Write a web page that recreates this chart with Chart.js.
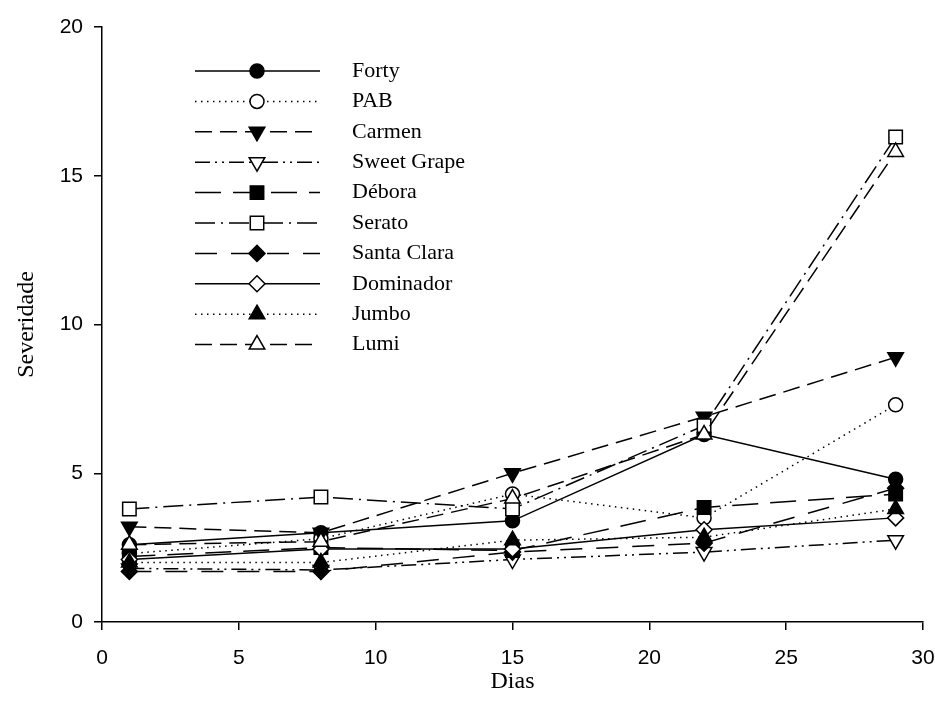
<!DOCTYPE html>
<html>
<head>
<meta charset="utf-8">
<script src="https://cdn.jsdelivr.net/npm/chart.js"></script>
<style>
  body { margin: 0; background: #fff; }
  canvas { display: block; }
</style>
</head>
<body>
<canvas id="chart" width="935" height="715"></canvas>
<script>
// dias de avaliacao
const dias = [1, 8, 15, 22, 29];

// severidade por cultivar
const forty      = [2.6, 3.0, 3.4, 6.3, 4.8];
const pab        = [2.3, 2.8, 4.3, 3.5, 7.3];
const carmen     = [3.2, 3.0, 5.0, 6.9, 8.9];
const sweetGrape = [1.8, 1.75, 2.1, 2.35, 2.75];
const debora     = [2.2, 2.5, 2.4, 3.85, 4.3];
const serato     = [3.8, 4.2, 3.8, 6.6, 16.3];
const santaClara = [1.7, 1.7, 2.35, 2.65, 4.5];
const dominador  = [2.1, 2.45, 2.45, 3.1, 3.5];
const jumbo      = [2.0, 2.0, 2.75, 2.85, 3.8];
const lumi       = [2.6, 2.7, 4.15, 6.3, 15.8];

const cultivares = ['Forty', 'PAB', 'Carmen', 'Sweet Grape', 'Débora', 'Serato', 'Santa Clara', 'Dominador', 'Jumbo', 'Lumi'];
const series = [forty, pab, carmen, sweetGrape, debora, serato, santaClara, dominador, jumbo, lumi];

const yTicks = [0, 5, 10, 15, 20];
const xTicks = [0, 5, 10, 15, 20, 25, 30];

// line / marker look for each cultivar
const styles = [
  { dash: [],                  shape: 'circle',   rot: 0,   r: 7,   fill: '#000' },
  { dash: [1.5, 4.5],          shape: 'circle',   rot: 0,   r: 7,   fill: '#fff' },
  { dash: [17, 8],             shape: 'triangle', rot: 180, r: 9,   fill: '#000' },
  { dash: [15, 5, 2, 5, 2, 5], shape: 'triangle', rot: 180, r: 9,   fill: '#fff' },
  { dash: [26, 12],            shape: 'rect',     rot: 0,   r: 9.5, fill: '#000' },
  { dash: [20, 6, 2, 6],       shape: 'rect',     rot: 0,   r: 9.5, fill: '#fff' },
  { dash: [22, 14],            shape: 'rectRot',  rot: 0,   r: 8,   fill: '#000' },
  { dash: [],                  shape: 'rectRot',  rot: 0,   r: 8,   fill: '#fff' },
  { dash: [1.5, 4.5],          shape: 'triangle', rot: 0,   r: 9,   fill: '#000' },
  { dash: [17, 8],             shape: 'triangle', rot: 0,   r: 9,   fill: '#fff' }
];

const datasets = series.map((vals, i) => ({
  label: cultivares[i],
  data: dias.map((d, j) => ({ x: d, y: vals[j] })),
  order: series.length - i, // later cultivars drawn on top
  borderColor: '#000',
  borderWidth: 1.5,
  borderDash: styles[i].dash,
  pointStyle: styles[i].shape,
  pointRotation: styles[i].rot,
  pointRadius: styles[i].r,
  pointBackgroundColor: styles[i].fill,
  pointBorderColor: '#000',
  pointBorderWidth: 1.5,
  tension: 0,
  fill: false,
  clip: false
}));

// legend: short line with the marker in the middle, text to the right
const lineLegend = {
  id: 'lineLegend',
  afterDraw(chart) {
    const ctx = chart.ctx;
    ctx.save();
    cultivares.forEach((name, i) => {
      const y = 71 + i * 30.4;
      const st = styles[i];
      ctx.strokeStyle = '#000';
      ctx.lineWidth = 1.5;
      ctx.setLineDash(st.dash);
      ctx.beginPath();
      ctx.moveTo(195, y);
      ctx.lineTo(320, y);
      ctx.stroke();
      ctx.setLineDash([]);
      ctx.fillStyle = st.fill;
      Chart.helpers.drawPoint(ctx, { pointStyle: st.shape, rotation: st.rot, radius: st.r, borderWidth: 1.5 }, 257, y);
      ctx.fillStyle = '#000';
      ctx.font = '22px "Liberation Serif"';
      ctx.textAlign = 'left';
      ctx.textBaseline = 'middle';
      ctx.fillText(name, 352, y);
    });
    ctx.restore();
  }
};

new Chart(document.getElementById('chart'), {
  type: 'line',
  data: { datasets },
  options: {
    responsive: false,
    animation: false,
    layout: { padding: { top: 27, right: 12, left: 0, bottom: 0 } },
    plugins: { legend: { display: false }, tooltip: { enabled: false } },
    scales: {
      x: {
        type: 'linear',
        min: 0,
        max: 30,
        afterBuildTicks: (scale) => { scale.ticks = xTicks.map(v => ({ value: v })); },
        afterFit: (scale) => { scale.height = 93; scale.paddingLeft = 0; scale.paddingRight = 0; },
        grid: { display: true, drawOnChartArea: false, drawTicks: true, tickLength: 8, color: '#000', lineWidth: 1.5 },
        border: { display: true, color: '#000', width: 1.5 },
        ticks: { color: '#000', font: { family: '"Liberation Sans"', size: 21 }, padding: 16, maxRotation: 0 },
        title: { display: true, text: 'Dias', color: '#000', font: { family: '"Liberation Serif"', size: 24 }, padding: { bottom: 19 } }
      },
      y: {
        type: 'linear',
        min: 0,
        max: 20,
        afterBuildTicks: (scale) => { scale.ticks = yTicks.map(v => ({ value: v })); },
        afterFit: (scale) => { scale.width = 102; scale.paddingTop = 0; scale.paddingBottom = 0; },
        grid: { display: true, drawOnChartArea: false, drawTicks: true, tickLength: 8, color: '#000', lineWidth: 1.5 },
        border: { display: true, color: '#000', width: 1.5 },
        ticks: { color: '#000', font: { family: '"Liberation Sans"', size: 21 }, padding: 11 },
        title: { display: true, text: 'Severidade', color: '#000', font: { family: '"Liberation Serif"', size: 24 }, padding: { top: 12 } }
      }
    }
  },
  plugins: [lineLegend]
});
</script>
</body>
</html>
